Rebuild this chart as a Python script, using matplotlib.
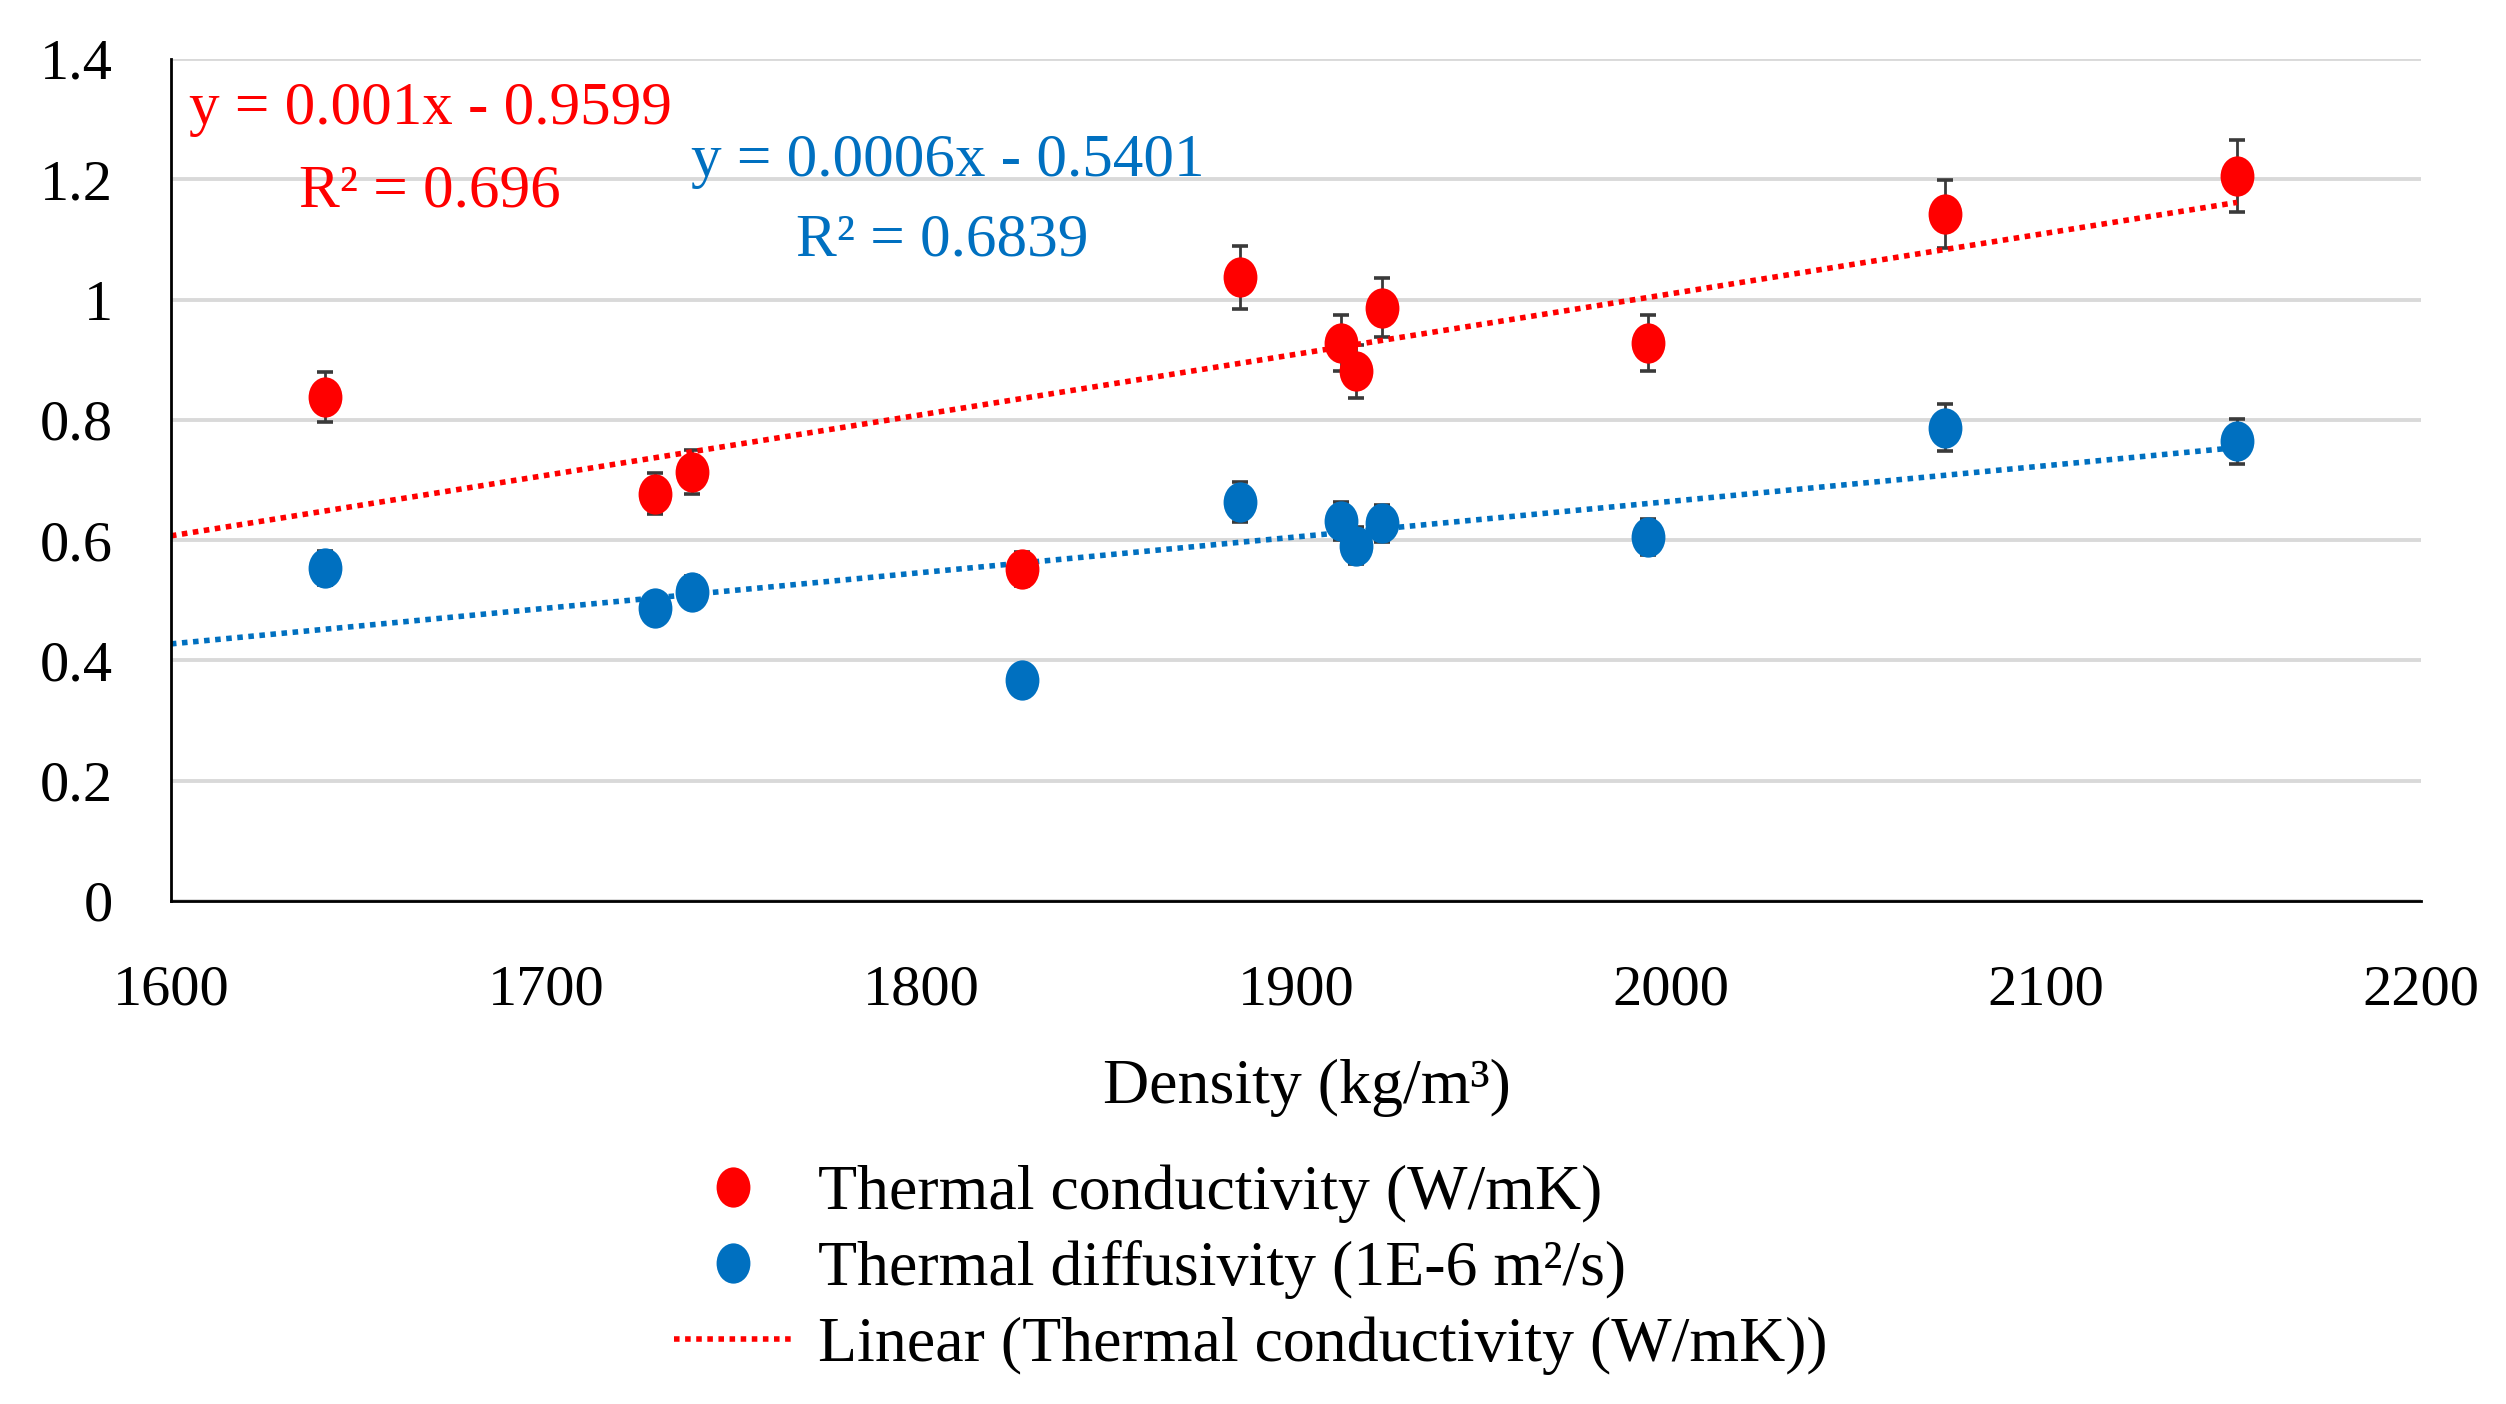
import numpy as np
import matplotlib
matplotlib.use("Agg")
import matplotlib.pyplot as plt
from matplotlib.path import Path
from matplotlib.lines import Line2D

plt.rcParams['font.family'] = ['Liberation Serif', 'DejaVu Serif']

# values
density = [1641, 1729, 1739, 1827, 1885, 1912, 1916, 1923, 1994, 2073, 2151]
conductivity = [0.838, 0.677, 0.713, 0.552, 1.037, 0.928, 0.881, 0.986, 0.928, 1.142, 1.206]
conductivity_err = [0.042, 0.034, 0.036, 0.028, 0.052, 0.046, 0.044, 0.049, 0.046, 0.057, 0.060]
diffusivity = [0.554, 0.487, 0.514, 0.367, 0.663, 0.632, 0.591, 0.628, 0.605, 0.787, 0.764]
diffusivity_err = [0.028, 0.024, 0.026, 0.018, 0.033, 0.032, 0.030, 0.031, 0.030, 0.039, 0.038]

x_ticks = [1600, 1700, 1800, 1900, 2000, 2100, 2200]
y_ticks = [0, 0.2, 0.4, 0.6, 0.8, 1.0, 1.2, 1.4]
y_labels = ['0', '0.2', '0.4', '0.6', '0.8', '1', '1.2', '1.4']

RED = '#FF0000'
BLUE = '#0070C0'
ERR = '#3A3A3A'

# slightly tall ellipse marker, like the squeezed original
circ = Path.unit_circle()
ellipse = Path(circ.vertices * [0.84, 1.0], circ.codes)
MS = 29

fig = plt.figure(figsize=(25.06, 14.04), dpi=100)
ax = fig.add_axes([0.0682, 0.3583, 0.8978, 0.5997])

x = np.array(density)
trend_x = np.array([1600, max(density)])
for y, col in [(conductivity, RED), (diffusivity, BLUE)]:
    slope, icpt = np.polyfit(x, y, 1)
    ax.plot(trend_x, slope * trend_x + icpt, color=col, lw=4,
            linestyle=(0, (1, 1)), dash_capstyle='butt', zorder=2.5)

for y, err, col in [(conductivity, conductivity_err, RED), (diffusivity, diffusivity_err, BLUE)]:
    ax.errorbar(density, y, yerr=err, fmt='none', ecolor=ERR, elinewidth=2,
                capsize=6, capthick=2.6, zorder=2)
    ax.plot(density, y, linestyle='none', marker=ellipse, markersize=MS,
            color=col, markeredgewidth=0, zorder=3)

ax.set_xlim(1600, 2200)
ax.set_ylim(0, 1.4)
ax.set_xticks(x_ticks)
ax.set_yticks(y_ticks)
ax.set_yticklabels(y_labels)
ax.tick_params(axis='both', length=0, labelsize=42)
ax.tick_params(axis='y', pad=42)
ax.tick_params(axis='x', pad=46)
ax.grid(axis='y', color='#D9D9D9', lw=2.8)
ax.set_axisbelow(True)
for s in ['top', 'right']:
    ax.spines[s].set_visible(False)
for s in ['left', 'bottom']:
    ax.spines[s].set_linewidth(2)
    ax.spines[s].set_color('black')

ax.set_xlabel('Density (kg/m³)', fontsize=46, va='center')
ax.xaxis.set_label_coords(0.505, -0.222)

ax.text(0.008, 0.94, 'y = 0.001x - 0.9599', transform=ax.transAxes,
        color=RED, fontsize=44, va='center', ha='left')
ax.text(0.057, 0.842, 'R² = 0.696', transform=ax.transAxes,
        color=RED, fontsize=44, va='center', ha='left')
ax.text(0.231, 0.879, 'y = 0.0006x - 0.5401', transform=ax.transAxes,
        color=BLUE, fontsize=44, va='center', ha='left')
ax.text(0.278, 0.784, 'R² = 0.6839', transform=ax.transAxes,
        color=BLUE, fontsize=44, va='center', ha='left')

handles = [
    Line2D([], [], linestyle='none', marker=ellipse, markersize=MS, color=RED, markeredgewidth=0),
    Line2D([], [], linestyle='none', marker=ellipse, markersize=MS, color=BLUE, markeredgewidth=0),
    Line2D([], [], color=RED, lw=4, linestyle=(0, (1, 1)), dash_capstyle='butt'),
]
labels = ['Thermal conductivity (W/mK)', 'Thermal diffusivity (1E-6 m²/s)',
          'Linear (Thermal conductivity (W/mK))']
fig.legend(handles, labels, loc='center left', bbox_to_anchor=(0.269, 0.0955),
           frameon=False, fontsize=46, handlelength=1.85, handletextpad=0.4,
           labelspacing=0.27, borderpad=0, borderaxespad=0)

fig.savefig('out.png', dpi=100)
